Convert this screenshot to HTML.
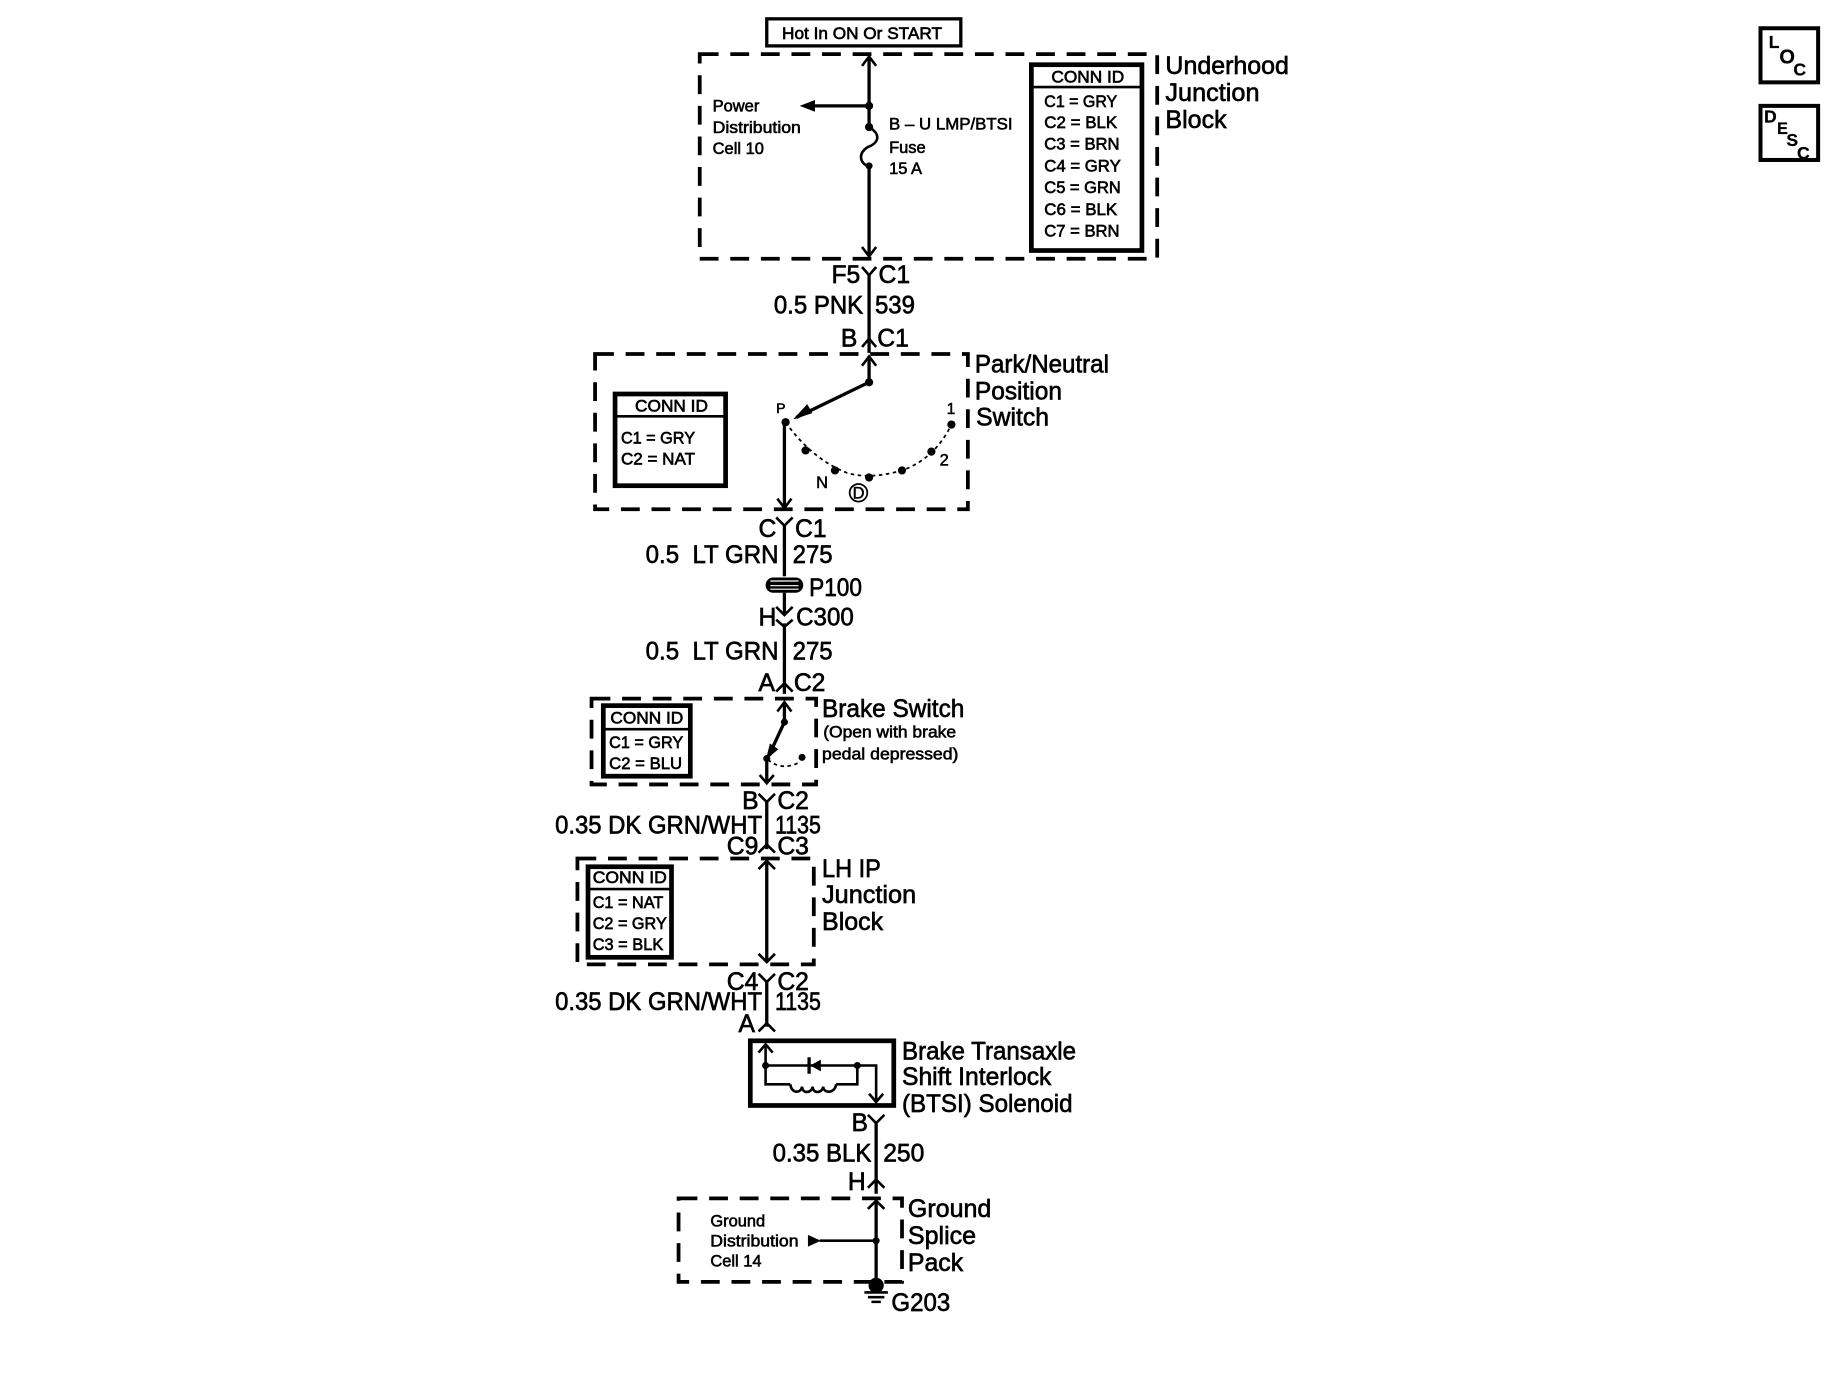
<!DOCTYPE html>
<html><head><meta charset="utf-8"><style>
html,body{margin:0;padding:0;background:#fff}
svg{display:block}
text{font-family:"Liberation Sans",sans-serif;fill:#000;stroke:#000;stroke-width:.45}
.b{font-size:21px;stroke-width:.55;transform:translateY(.7px)}.s{font-size:14px;stroke-width:.5}.m{font-size:14.5px;stroke-width:.55}
.x{font-weight:bold;stroke-width:.2}
.l{fill:none;stroke:#000;stroke-width:2.8}
.d{fill:none;stroke:#000;stroke-width:3.2;stroke-dasharray:16 10}
.c{fill:none;stroke:#000;stroke-width:2.2}
.o{fill:none;stroke:#000;stroke-width:1.5;stroke-dasharray:3 3}
.k{fill:none;stroke:#000;stroke-width:4}
</style></head><body>
<svg width="1844" height="1376" viewBox="0 0 1568 1170" xmlns="http://www.w3.org/2000/svg">
<rect width="1568" height="1170" fill="#fff"/>
<!-- top -->
<rect x="652" y="16" width="165" height="23" class="l"/>
<text x="665" y="33" class="m" textLength="136" lengthAdjust="spacingAndGlyphs">Hot In ON Or START</text>
<rect x="595" y="46" width="389" height="174" class="d"/>
<path d="M739 48V108M739 140V218" class="l"/>
<path d="M733 56L739 48L745 56M733 210L739 218L745 210" class="c"/>
<path d="M739 90H690" class="l"/><path d="M680 90L693 85V95Z"/>
<path d="M739 108C752 116 744 123 738 125C730 130 730 138 739 142" class="c"/>
<circle cx="739" cy="90" r="3.5"/><circle cx="739" cy="108" r="3.5"/><circle cx="739" cy="141" r="3"/>
<text x="606" y="95" class="s">Power</text>
<text x="606" y="113" class="s" textLength="75" lengthAdjust="spacingAndGlyphs">Distribution</text>
<text x="606" y="131" class="s">Cell 10</text>
<text x="756" y="110" class="s" textLength="105" lengthAdjust="spacingAndGlyphs">B – U LMP/BTSI</text>
<text x="756" y="130" class="s">Fuse</text>
<text x="756" y="148" class="s">15 A</text>
<rect x="877" y="55" width="94" height="158" class="k"/>
<path d="M877 74H971" class="c"/>
<text x="894" y="70" class="m" textLength="62" lengthAdjust="spacingAndGlyphs">CONN ID</text>
<text x="888" y="91" class="m" textLength="62" lengthAdjust="spacingAndGlyphs">C1 = GRY</text>
<text x="888" y="109" class="m" textLength="62" lengthAdjust="spacingAndGlyphs">C2 = BLK</text>
<text x="888" y="127" class="m" textLength="64" lengthAdjust="spacingAndGlyphs">C3 = BRN</text>
<text x="888" y="146" class="m" textLength="65" lengthAdjust="spacingAndGlyphs">C4 = GRY</text>
<text x="888" y="164" class="m" textLength="65" lengthAdjust="spacingAndGlyphs">C5 = GRN</text>
<text x="888" y="183" class="m" textLength="62" lengthAdjust="spacingAndGlyphs">C6 = BLK</text>
<text x="888" y="201" class="m" textLength="64" lengthAdjust="spacingAndGlyphs">C7 = BRN</text>
<text x="991" y="62" class="b" textLength="105" lengthAdjust="spacingAndGlyphs">Underhood</text>
<text x="991" y="85" class="b" textLength="80" lengthAdjust="spacingAndGlyphs">Junction</text>
<text x="991" y="108" class="b" textLength="52" lengthAdjust="spacingAndGlyphs">Block</text>
<text x="707" y="240" class="b">F5</text>
<text x="747" y="240" class="b">C1</text>
<path d="M739 234V300" class="l"/>
<path d="M733 227L739 234L745 227M733 295L739 288L745 295" class="c"/>
<text x="658" y="266" class="b" textLength="76" lengthAdjust="spacingAndGlyphs">0.5 PNK</text>
<text x="744" y="266" class="b" textLength="34" lengthAdjust="spacingAndGlyphs">539</text>
<text x="715" y="294" class="b">B</text>
<text x="746" y="294" class="b">C1</text>
<!-- Park/Neutral -->
<rect x="506" y="301" width="317" height="132" class="d"/>
<path d="M739 303V325L677 355" class="l"/>
<path d="M733 311L739 303L745 311" class="c"/>
<path d="M675 356L690 351L686 344" fill="#000" stroke="#000" stroke-width="1"/>
<circle cx="739" cy="325" r="3.5"/>
<circle cx="668" cy="359" r="3.5"/>
<path d="M667 359V431" class="l"/>
<path d="M661 424L667 432L673 424" class="c"/>
<path d="M668 359Q690 390 720 402Q739 408 767 400Q795 390 809 361" class="o"/>
<circle cx="685" cy="383" r="3.5"/><circle cx="710" cy="400" r="3.5"/><circle cx="739" cy="406" r="3.5"/><circle cx="767" cy="400" r="3.5"/><circle cx="792" cy="384" r="3.5"/><circle cx="809" cy="361" r="3.5"/>
<text x="660" y="351" style="font-size:12px">P</text>
<text x="805" y="352" style="font-size:13px">1</text>
<text x="799" y="396" style="font-size:14px">2</text>
<text x="694" y="415" style="font-size:14px">N</text>
<circle cx="730" cy="419" r="7.5" fill="none" stroke="#000" stroke-width="1.5"/>
<text x="725" y="424" style="font-size:14px">D</text>
<rect x="523" y="335" width="94" height="78" class="k"/>
<path d="M523 354H617" class="c"/>
<text x="540" y="350" class="m" textLength="62" lengthAdjust="spacingAndGlyphs">CONN ID</text>
<text x="528" y="377" class="m" textLength="63" lengthAdjust="spacingAndGlyphs">C1 = GRY</text>
<text x="528" y="395" class="m" textLength="63" lengthAdjust="spacingAndGlyphs">C2 = NAT</text>
<text x="829" y="316" class="b" textLength="114" lengthAdjust="spacingAndGlyphs">Park/Neutral</text>
<text x="829" y="339" class="b" textLength="74" lengthAdjust="spacingAndGlyphs">Position</text>
<text x="830" y="361" class="b" textLength="62" lengthAdjust="spacingAndGlyphs">Switch</text>
<!-- mid -->
<text x="645" y="456" class="b">C</text>
<text x="676" y="456" class="b">C1</text>
<path d="M667 447V490" class="l"/>
<path d="M660 440L667 447L674 440" class="c"/>
<text x="549" y="478" class="b" textLength="113" lengthAdjust="spacingAndGlyphs">0.5&#160; LT GRN</text>
<text x="674" y="478" class="b" textLength="34" lengthAdjust="spacingAndGlyphs">275</text>
<rect x="651" y="491" width="32" height="13" rx="6.5"/>
<path d="M655 494H679M655 498H679M655 501H679" stroke="#fff" stroke-width="1"/>
<text x="688" y="506" class="b" textLength="45" lengthAdjust="spacingAndGlyphs">P100</text>
<path d="M667 504V522M667 530V590" class="l"/>
<path d="M660 516L667 523L674 516M660 527L667 533L674 527" class="c"/>
<text x="645" y="531" class="b">H</text>
<text x="677" y="531" class="b" textLength="49" lengthAdjust="spacingAndGlyphs">C300</text>
<text x="549" y="560" class="b" textLength="113" lengthAdjust="spacingAndGlyphs">0.5&#160; LT GRN</text>
<text x="674" y="560" class="b" textLength="34" lengthAdjust="spacingAndGlyphs">275</text>
<path d="M660 588L667 581L674 588" class="c"/>
<text x="645" y="587" class="b">A</text>
<text x="675" y="587" class="b">C2</text>
<!-- Brake switch -->
<rect x="503" y="594" width="191" height="73" class="d"/>
<path d="M667 597V614L654 642M652 645V666" class="l"/>
<path d="M661 605L667 597L673 605M646 659L652 666L658 659" class="c"/>
<path d="M652 645L655 633L661 637Z" stroke="#000"/>
<circle cx="667" cy="614" r="3"/><circle cx="652" cy="645" r="3"/><circle cx="682" cy="644" r="3"/>
<path d="M653 646Q665 656 680 648" class="o"/>
<rect x="513" y="600" width="74" height="60" class="k"/>
<path d="M513 620H587" class="c"/>
<text x="519" y="615" class="m" textLength="62" lengthAdjust="spacingAndGlyphs">CONN ID</text>
<text x="518" y="636" class="m" textLength="63" lengthAdjust="spacingAndGlyphs">C1 = GRY</text>
<text x="518" y="654" class="m" textLength="62" lengthAdjust="spacingAndGlyphs">C2 = BLU</text>
<text x="699" y="609" class="b" textLength="121" lengthAdjust="spacingAndGlyphs">Brake Switch</text>
<text x="700" y="627" class="s" textLength="113" lengthAdjust="spacingAndGlyphs">(Open with brake</text>
<text x="699" y="646" class="s" textLength="116" lengthAdjust="spacingAndGlyphs">pedal depressed)</text>
<text x="631" y="687" class="b">B</text>
<text x="661" y="687" class="b">C2</text>
<path d="M652 682V722" class="l"/>
<path d="M645 675L652 682L659 675M645 725L652 718L659 725" class="c"/>
<text x="472" y="708" class="b" textLength="176" lengthAdjust="spacingAndGlyphs">0.35 DK GRN/WHT</text>
<text x="659" y="708" class="b" textLength="39" lengthAdjust="spacingAndGlyphs">1135</text>
<text x="618" y="726" class="b">C9</text>
<text x="661" y="726" class="b">C3</text>
<!-- LH IP -->
<rect x="491" y="730" width="201" height="90" class="d"/>
<path d="M652 732V818" class="l"/>
<path d="M645 739L652 732L659 739M645 811L652 818L659 811" class="c"/>
<rect x="500" y="737" width="71" height="77" class="k"/>
<path d="M500 756H571" class="c"/>
<text x="504" y="751" class="m" textLength="63" lengthAdjust="spacingAndGlyphs">CONN ID</text>
<text x="504" y="772" class="m" textLength="60" lengthAdjust="spacingAndGlyphs">C1 = NAT</text>
<text x="504" y="790" class="m" textLength="63" lengthAdjust="spacingAndGlyphs">C2 = GRY</text>
<text x="504" y="808" class="m" textLength="60" lengthAdjust="spacingAndGlyphs">C3 = BLK</text>
<text x="699" y="745" class="b" textLength="50" lengthAdjust="spacingAndGlyphs">LH IP</text>
<text x="699" y="767" class="b" textLength="80" lengthAdjust="spacingAndGlyphs">Junction</text>
<text x="699" y="790" class="b" textLength="52" lengthAdjust="spacingAndGlyphs">Block</text>
<text x="618" y="841" class="b">C4</text>
<text x="661" y="841" class="b">C2</text>
<path d="M652 835V873" class="l"/>
<path d="M645 828L652 835L659 828M645 877L652 870L659 877" class="c"/>
<text x="472" y="858" class="b" textLength="176" lengthAdjust="spacingAndGlyphs">0.35 DK GRN/WHT</text>
<text x="659" y="858" class="b" textLength="39" lengthAdjust="spacingAndGlyphs">1135</text>
<text x="628" y="877" class="b">A</text>
<!-- Solenoid -->
<rect x="638" y="885" width="122" height="55" class="k"/>
<path d="M651 888V922H672M651 906H745V937M729 906V922H711" class="c"/>
<path d="M645 895L651 888L657 895M739 930L745 937L751 930" class="c"/>
<path d="M672 922C673 930 681 930 682 924C682 930 690 930 691 924C691 930 699 930 700 924C700 930 710 930 711 922" class="c"/>
<path d="M688 899V913" class="l"/><path d="M689 906L698 901V911Z"/>
<circle cx="651" cy="906" r="3"/><circle cx="729" cy="906" r="3"/>
<text x="767" y="900" class="b" textLength="148" lengthAdjust="spacingAndGlyphs">Brake Transaxle</text>
<text x="767" y="922" class="b" textLength="127" lengthAdjust="spacingAndGlyphs">Shift Interlock</text>
<text x="767" y="945" class="b" textLength="145" lengthAdjust="spacingAndGlyphs">(BTSI) Solenoid</text>
<text x="724" y="961" class="b">B</text>
<path d="M745 955V1015" class="l"/>
<path d="M738 948L745 955L752 948M738 1010L745 1003L752 1010" class="c"/>
<text x="657" y="987" class="b" textLength="84" lengthAdjust="spacingAndGlyphs">0.35 BLK</text>
<text x="751" y="987" class="b" textLength="35" lengthAdjust="spacingAndGlyphs">250</text>
<text x="721" y="1011" class="b">H</text>
<!-- Ground -->
<rect x="577" y="1019" width="190" height="71" class="d"/>
<path d="M745 1021V1092" class="l"/>
<path d="M738 1028L745 1021L752 1028" class="c"/>
<path d="M745 1055H697" class="c"/><path d="M698 1055L687 1050V1060Z"/>
<circle cx="745" cy="1055" r="3"/>
<circle cx="745" cy="1093" r="6.5"/>
<path d="M735 1099H755M738 1103H752M741 1107H749" class="c"/>
<text x="604" y="1043" class="s">Ground</text>
<text x="604" y="1060" class="s" textLength="75" lengthAdjust="spacingAndGlyphs">Distribution</text>
<text x="604" y="1077" class="s">Cell 14</text>
<text x="772" y="1034" class="b" textLength="71" lengthAdjust="spacingAndGlyphs">Ground</text>
<text x="772" y="1057" class="b" textLength="58" lengthAdjust="spacingAndGlyphs">Splice</text>
<text x="772" y="1080" class="b" textLength="47" lengthAdjust="spacingAndGlyphs">Pack</text>
<text x="758" y="1114" class="b" textLength="50" lengthAdjust="spacingAndGlyphs">G203</text>
<!-- LOC / DESC -->
<rect x="1497" y="24" width="49" height="46" fill="none" stroke="#000" stroke-width="3.4"/>
<text x="1504" y="41" class="x" style="font-size:15px">L</text>
<text x="1513" y="54" class="x" style="font-size:17px">O</text>
<text x="1525" y="64" class="x" style="font-size:15px">C</text>
<rect x="1497" y="90" width="49" height="46" fill="none" stroke="#000" stroke-width="3.4"/>
<text x="1500" y="104" class="x" style="font-size:15px">D</text>
<text x="1511" y="114" class="x" style="font-size:14px">E</text>
<text x="1519" y="124" class="x" style="font-size:15px">S</text>
<text x="1528" y="135" class="x" style="font-size:15px">C</text>
</svg>
</body></html>
